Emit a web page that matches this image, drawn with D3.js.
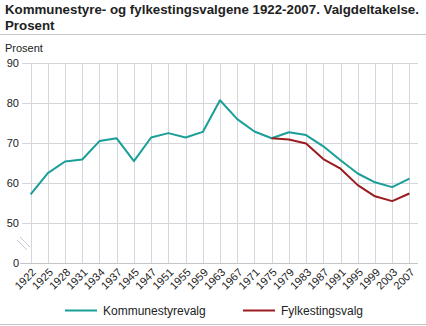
<!DOCTYPE html>
<html>
<head>
<meta charset="utf-8">
<script src="https://cdn.jsdelivr.net/npm/d3@7"></script>
<style>
  html, body { margin: 0; padding: 0; background: #fff; }
  svg { display: block; font-family: "Liberation Sans", Arial, sans-serif; }
</style>
</head>
<body>
<svg id="chart" width="426" height="326"></svg>
<script>
// Valgdeltakelse, prosent
const years = ["1922","1925","1928","1931","1934","1937","1945","1947","1951","1955","1959","1963",
               "1967","1971","1975","1979","1983","1987","1991","1995","1999","2003","2007"];
const kommunestyrevalg = [57.3, 62.6, 65.5, 66.0, 70.6, 71.3, 65.6, 71.5, 72.6, 71.5, 72.9, 80.8,
                          76.1, 73.0, 71.3, 72.8, 72.1, 69.3, 65.8, 62.5, 60.3, 59.1, 61.2];
const fylkestingsvalg = [null, null, null, null, null, null, null, null, null, null, null, null,
                         null, null, 71.3, 71.0, 70.0, 66.1, 63.7, 59.6, 56.8, 55.6, 57.5];
const yTicks = [50, 60, 70, 80, 90];
const seriesNames = ["Kommunestyrevalg", "Fylkestingsvalg"];
const seriesColors = ["#1a9e98", "#9b1b1f"];

const svg = d3.select("#chart");

// Title block
svg.append("text").attr("x", 5).attr("y", 14)
  .attr("font-size", 13.3).attr("font-weight", "bold").attr("fill", "#222")
  .text("Kommunestyre- og fylkestingsvalgene 1922-2007. Valgdeltakelse.");
svg.append("text").attr("x", 5).attr("y", 29.5)
  .attr("font-size", 13.3).attr("font-weight", "bold").attr("fill", "#222")
  .text("Prosent");
svg.append("line").attr("x1", 0).attr("x2", 426).attr("y1", 34.5).attr("y2", 34.5)
  .attr("stroke", "#c8c8c8").attr("stroke-width", 1);
svg.append("line").attr("x1", 0).attr("x2", 426).attr("y1", 324.5).attr("y2", 324.5)
  .attr("stroke", "#c8c8c8").attr("stroke-width", 1);

const left = 22, right = 418;
const x = d3.scalePoint().domain(years).range([left, right]).padding(0.5);
// Broken y axis: 50–90 on the upper part, 0 at the baseline
const y = d3.scaleLinear().domain([50, 90]).range([223.5, 63.5]);
const yZero = 263.5;

svg.append("text").attr("x", 5).attr("y", 52)
  .attr("font-size", 11).attr("fill", "#222").text("Prosent");

// Horizontal grid
const g = svg.append("g");
g.selectAll("line.h").data(yTicks).join("line")
  .attr("x1", left).attr("x2", right)
  .attr("y1", d => y(d)).attr("y2", d => y(d))
  .attr("stroke", "#d4d6dc").attr("stroke-width", 1);

// Vertical grid
g.selectAll("line.v").data(years).join("line")
  .attr("x1", d => Math.round(x(d)) + 0.5).attr("x2", d => Math.round(x(d)) + 0.5)
  .attr("y1", y(90)).attr("y2", yZero)
  .attr("stroke", "#d4d6dc").attr("stroke-width", 1);

// Baseline
svg.append("line").attr("x1", left - 2).attr("x2", right).attr("y1", yZero).attr("y2", yZero)
  .attr("stroke", "#c4c6cc").attr("stroke-width", 1);

// Y tick labels
svg.selectAll("text.yt").data(yTicks).join("text")
  .attr("x", 19).attr("y", d => y(d) + 3.5)
  .attr("text-anchor", "end").attr("font-size", 11).attr("fill", "#222")
  .text(d => d);
svg.append("text").attr("x", 19).attr("y", yZero + 3)
  .attr("text-anchor", "end").attr("font-size", 11).attr("fill", "#222").text("0");

// Axis break marks
[0, 3].forEach(o => {
  svg.append("line")
    .attr("x1", 17 + o).attr("y1", 240 - o)
    .attr("x2", 27 + o).attr("y2", 250 - o)
    .attr("stroke", "#c8cad0").attr("stroke-width", 1);
});

// X tick labels
svg.selectAll("text.xt").data(years).join("text")
  .attr("transform", d => `translate(${x(d) + 6},${yZero + 9.5}) rotate(-45)`)
  .attr("text-anchor", "end").attr("font-size", 11).attr("fill", "#222")
  .text(d => d);

// Lines
const line = d3.line()
  .defined(d => d.v != null)
  .x(d => x(d.year)).y(d => y(d.v));

[kommunestyrevalg, fylkestingsvalg].forEach((vals, i) => {
  svg.append("path")
    .datum(years.map((yr, j) => ({ year: yr, v: vals[j] })))
    .attr("d", line)
    .attr("fill", "none")
    .attr("stroke", seriesColors[i])
    .attr("stroke-width", 2)
    .attr("stroke-linejoin", "round");
});

// Legend
const legendX = [65, 243];
seriesNames.forEach((name, i) => {
  svg.append("line")
    .attr("x1", legendX[i]).attr("x2", legendX[i] + 32)
    .attr("y1", 310.5).attr("y2", 310.5)
    .attr("stroke", seriesColors[i]).attr("stroke-width", 2);
  svg.append("text")
    .attr("x", legendX[i] + 38).attr("y", 315)
    .attr("font-size", 12).attr("fill", "#222").text(name);
});
</script>
</body>
</html>
